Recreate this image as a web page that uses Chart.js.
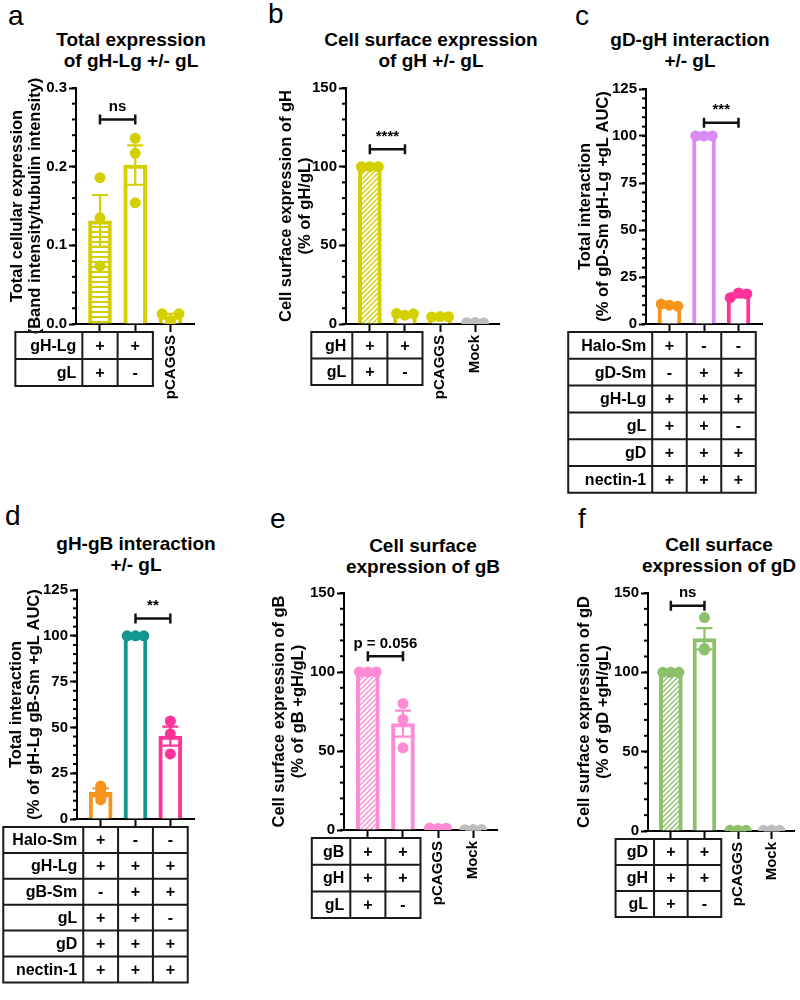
<!DOCTYPE html>
<html>
<head>
<meta charset="utf-8">
<script src="https://cdn.jsdelivr.net/npm/chart.js@4.4.1/dist/chart.umd.min.js"></script>
<style>
  body { margin: 0; background: #fff; }
  #page { position: relative; width: 800px; height: 1000px; overflow: hidden; font-family: "Liberation Sans", Arial, sans-serif; }
  .letter { position: absolute; font-size: 28px; line-height: 28px; }
  .title { position: absolute; width: 300px; text-align: center; font-weight: bold; font-size: 19px; line-height: 21px; }
  canvas { position: absolute; }
</style>
</head>
<body>
<div id="page"></div>
<script>
// ---- data ----
// a: total expression of gH-Lg +/- gL
const aLabels = ['', '', 'pCAGGS'];
const aMeans = [0.131, 0.202, 0.010];
const aSem = [0.033, 0.025, 0.003];
const aPoints = [[0.186, 0.135, 0.074], [0.236, 0.217, 0.154], [0.013, 0.004, 0.013]];
const aYTicks = [0, 0.1, 0.2, 0.3];
const aBrackets = [{ from: 0, to: 1, y: 0.26, text: 'ns' }];
const aTable = [['gH-Lg', '+', '+'], ['gL', '+', '-']];

// b: cell surface expression of gH +/- gL
const bLabels = ['', '', 'pCAGGS', 'Mock'];
const bMeans = [100, 6.2, 4.6, 0.8];
const bSem = [0, 0.4, 0.2, 0.1];
const bPoints = [[100, 100, 100], [6.6, 5.6, 6.5], [4.5, 4.7, 4.6], [0.8, 0.9, 0.7]];
const bYTicks = [0, 50, 100, 150];
const bBrackets = [{ from: 0, to: 1, y: 111, text: '****' }];
const bTable = [['gH', '+', '+'], ['gL', '+', '-']];

// c: gD-gH interaction +/- gL
const cLabels = ['', '', ''];
const cMeans = [10, 100, 15.5];
const cSem = [0.4, 0, 0.8];
const cPoints = [[10.6, 10.0, 9.5], [100, 100, 100], [14.0, 16.5, 16.0]];
const cYTicks = [0, 25, 50, 75, 100, 125];
const cBrackets = [{ from: 1, to: 2, y: 107, text: '***' }];
const cTable = [
  ['Halo-Sm', '+', '-', '-'],
  ['gD-Sm', '-', '+', '+'],
  ['gH-Lg', '+', '+', '+'],
  ['gL', '+', '+', '-'],
  ['gD', '+', '+', '+'],
  ['nectin-1', '+', '+', '+']
];

// d: gH-gB interaction +/- gL
const dLabels = ['', '', ''];
const dMeans = [14.5, 100, 45.2];
const dSem = [2.2, 0, 5.2];
const dPoints = [[18.0, 15.0, 10.5], [100, 100, 100], [53.5, 46.5, 35.5]];
const dYTicks = [0, 25, 50, 75, 100, 125];
const dBrackets = [{ from: 1, to: 2, y: 109.5, text: '**' }];
const dTable = [
  ['Halo-Sm', '+', '-', '-'],
  ['gH-Lg', '+', '+', '+'],
  ['gB-Sm', '-', '+', '+'],
  ['gL', '+', '+', '-'],
  ['gD', '+', '+', '+'],
  ['nectin-1', '+', '+', '+']
];

// e: cell surface expression of gB
const eLabels = ['', '', 'pCAGGS', 'Mock'];
const eMeans = [100, 67.3, 1.1, 0.3];
const eSem = [0, 8.2, 0.1, 0.1];
const ePoints = [[100, 100, 100], [80, 70, 52], [1.2, 1.0, 1.1], [0.2, 0.3, 0.3]];
const eYTicks = [0, 50, 100, 150];
const eBrackets = [{ from: 0, to: 1, y: 110, text: 'p = 0.056' }];
const eTable = [['gB', '+', '+'], ['gH', '+', '+'], ['gL', '+', '-']];

// f: cell surface expression of gD
const fLabels = ['', '', 'pCAGGS', 'Mock'];
const fMeans = [100, 121.2, 0.5, 0.5];
const fSem = [0, 6.7, 0.1, 0.1];
const fPoints = [[100, 100, 100], [134.5, 115, 114], [0.4, 0.5, 0.4], [0.5, 0.6, 0.4]];
const fYTicks = [0, 50, 100, 150];
const fBrackets = [{ from: 0, to: 1, y: 142, text: 'ns' }];
const fTable = [['gD', '+', '+'], ['gH', '+', '+'], ['gL', '+', '-']];

// ---- colours ----
const YEL = '#d3cf00', ORA = '#f7941d', VIO = '#da8cf5', PNK = '#ff3399',
      TEA = '#12968f', LPK = '#ff8ad6', GRN = '#8cc06a', GRY = '#bdbdbd';

const FONT = '"Liberation Sans", Arial, sans-serif';
Chart.defaults.font.family = FONT;
Chart.defaults.color = '#000';

function makeFill(kind, color) {
  if (kind === 'o') return '#ffffff';
  const c = document.createElement('canvas');
  if (kind === 'h') {
    c.width = 4; c.height = 5;
    const g = c.getContext('2d');
    g.fillStyle = '#fff'; g.fillRect(0, 0, 4, 5);
    g.fillStyle = color; g.fillRect(0, 0, 4, 2);
    return g.createPattern(c, 'repeat');
  }
  c.width = 5; c.height = 5;
  const g = c.getContext('2d');
  g.fillStyle = '#fff'; g.fillRect(0, 0, 5, 5);
  g.strokeStyle = color; g.lineWidth = 1.4;
  g.beginPath();
  g.moveTo(-1, 6); g.lineTo(6, -1);
  g.moveTo(-1, 1); g.lineTo(1, -1);
  g.moveTo(4, 6); g.lineTo(6, 4);
  g.stroke();
  return g.createPattern(c, 'repeat');
}

// error bars, minor ticks, significance brackets and the condition table
function extrasPlugin(p) {
  return {
    id: 'extras',
    afterDatasetsDraw(chart) {
      const { ctx } = chart;
      const x = chart.scales.x, y = chart.scales.y;
      ctx.save();
      ctx.lineCap = 'butt';

      // minor y ticks
      ctx.strokeStyle = '#000';
      ctx.lineWidth = 2;
      const nMinor = Math.round(p.yMax / p.minor);
      for (let k = 0; k <= nMinor; k++) {
        const py = y.getPixelForValue(k * p.minor);
        ctx.beginPath();
        ctx.moveTo(x.left - 4, py);
        ctx.lineTo(x.left, py);
        ctx.stroke();
      }

      // mean +/- SEM
      p.means.forEach((m, i) => {
        const s = p.sems[i];
        if (!s) return;
        const px = x.getPixelForValue(i);
        const t = y.getPixelForValue(m + s), b = y.getPixelForValue(Math.max(m - s, 0));
        ctx.strokeStyle = p.colors[i];
        ctx.lineWidth = 2.2;
        ctx.beginPath();
        ctx.moveTo(px, t); ctx.lineTo(px, b);
        ctx.moveTo(px - 8, t); ctx.lineTo(px + 8, t);
        ctx.moveTo(px - 8, b); ctx.lineTo(px + 8, b);
        ctx.stroke();
      });

      // brackets
      p.brackets.forEach(br => {
        const x1 = x.getPixelForValue(br.from), x2 = x.getPixelForValue(br.to);
        const py = y.getPixelForValue(br.y);
        ctx.strokeStyle = '#111';
        ctx.lineWidth = 2.5;
        ctx.beginPath();
        ctx.moveTo(x1, py); ctx.lineTo(x2, py);
        ctx.moveTo(x1, py - 5); ctx.lineTo(x1, py + 5);
        ctx.moveTo(x2, py - 5); ctx.lineTo(x2, py + 5);
        ctx.stroke();
        ctx.fillStyle = '#000';
        ctx.font = 'bold 15px ' + FONT;
        ctx.textAlign = 'center';
        ctx.textBaseline = 'bottom';
        ctx.fillText(br.text, (x1 + x2) / 2, py - 5);
      });

      // condition table under the axis
      if (p.table) {
        const step = x.getPixelForValue(1) - x.getPixelForValue(0);
        const cols = p.table[0].length - 1;
        const edges = [x.getPixelForValue(0) - step / 2 - p.labelW];
        for (let i = 0; i <= cols; i++) edges.push(x.getPixelForValue(i) - step / 2);
        const top = y.bottom + 8;
        const rows = p.table.length;
        const bottom = top + rows * p.rowH;
        ctx.strokeStyle = '#1a1a1a';
        ctx.lineWidth = 2;
        ctx.beginPath();
        for (let r = 0; r <= rows; r++) {
          const ry = top + r * p.rowH;
          ctx.moveTo(edges[0] - 1, ry); ctx.lineTo(edges[edges.length - 1] + 1, ry);
        }
        edges.forEach(ex => { ctx.moveTo(ex, top); ctx.lineTo(ex, bottom); });
        ctx.stroke();
        ctx.fillStyle = '#000';
        ctx.font = 'bold 16px ' + FONT;
        ctx.textBaseline = 'middle';
        p.table.forEach((row, r) => {
          const cy = top + (r + 0.5) * p.rowH + 1;
          ctx.textAlign = 'right';
          ctx.fillText(row[0], edges[1] - 6, cy);
          ctx.textAlign = 'center';
          for (let i = 1; i < row.length; i++) {
            ctx.fillText(row[i], x.getPixelForValue(i - 1), cy);
          }
        });
      }
      ctx.restore();
    }
  };
}

function drawPanel(p) {
  const page = document.getElementById('page');

  const L = document.createElement('div');
  L.className = 'letter';
  L.textContent = p.letter[0];
  L.style.left = p.letter[1] + 'px';
  L.style.top = p.letter[2] + 'px';
  page.appendChild(L);

  const T = document.createElement('div');
  T.className = 'title';
  T.innerHTML = p.title.join('<br>');
  T.style.left = (p.titleCx - 150) + 'px';
  T.style.top = p.titleTop + 'px';
  page.appendChild(T);

  const [cl, ct, cw, ch] = p.box;
  const cv = document.createElement('canvas');
  cv.width = cw; cv.height = ch;
  cv.style.left = cl + 'px'; cv.style.top = ct + 'px';
  cv.style.width = cw + 'px'; cv.style.height = ch + 'px';
  page.appendChild(cv);

  const n = p.labels.length;
  const bars = p.means.map((m, i) => ({ x: i, y: m }));
  const fills = p.fills.map((f, i) => makeFill(f, p.colors[i]));

  const pts = [], ptCol = [];
  p.points.forEach((vals, i) => {
    const spread = (Math.max(...vals) - Math.min(...vals)) < p.yMax * 0.04;
    vals.forEach((v, k) => {
      pts.push({ x: i + (spread ? (k - 1) * 0.24 : 0), y: v });
      ptCol.push(p.colors[i]);
    });
  });

  new Chart(cv, {
    type: 'bar',
    data: {
      datasets: [
        {
          type: 'bar',
          data: bars,
          backgroundColor: fills,
          borderColor: p.colors,
          borderWidth: 4,
          barThickness: 23,
          order: 2
        },
        {
          type: 'scatter',
          data: pts,
          pointRadius: 5.5,
          pointBackgroundColor: ptCol,
          pointBorderWidth: 0,
          order: 1
        }
      ]
    },
    options: {
      responsive: false,
      animation: false,
      layout: {
        padding: {
          left: p.titleLeft - cl,
          top: p.axis.top - ct,
          right: cl + cw - p.axis.right,
          bottom: 0
        }
      },
      plugins: { legend: { display: false }, tooltip: { enabled: false } },
      scales: {
        x: {
          type: 'linear',
          offset: false,
          min: -0.68,
          max: n - 1 + 0.68,
          afterBuildTicks: s => { s.ticks = p.labels.map((_, i) => ({ value: i })); },
          afterFit: s => {
            s.height = ct + ch - p.axis.bottom;
            s.paddingLeft = 0;
            s.paddingRight = 0;
          },
          ticks: {
            callback: v => p.labels[v],
            minRotation: 90, maxRotation: 90, autoSkip: false,
            padding: 3,
            font: { size: 15, weight: 'bold' }
          },
          grid: { offset: false, drawOnChartArea: false, tickLength: 8, tickWidth: 2, tickColor: '#000' },
          border: { color: '#000', width: 2 }
        },
        y: {
          min: 0,
          max: p.yMax,
          afterBuildTicks: s => { s.ticks = p.yTicks.map(v => ({ value: v })); },
          afterFit: s => { s.width = p.axis.left - p.titleLeft; },
          ticks: {
            callback: v => p.fmt(v),
            padding: 2,
            font: { size: 15, weight: 'bold' }
          },
          grid: { drawOnChartArea: false, tickLength: 7, tickWidth: 2, tickColor: '#000' },
          border: { color: '#000', width: 2 },
          title: {
            display: true,
            text: p.yTitle,
            padding: 0,
            font: { size: 16.5, weight: 'bold', lineHeight: 1.12 }
          }
        }
      }
    },
    plugins: [extrasPlugin(p)]
  });
}

const intFmt = v => String(v);

drawPanel({
  letter: ['a', 8, 2], title: ['Total expression', 'of gH-Lg +/- gL'], titleCx: 131, titleTop: 29,
  box: [0, 76, 200, 329], axis: { left: 76, right: 195, top: 88, bottom: 324 }, titleLeft: 8,
  labels: aLabels, means: aMeans, sems: aSem, points: aPoints, yTicks: aYTicks, yMax: 0.3, minor: 0.02,
  fmt: v => v.toFixed(1), yTitle: ['Total cellular expression', '(Band intensity/tubulin intensity)'],
  colors: [YEL, YEL, YEL], fills: ['h', 'o', 'o'], brackets: aBrackets,
  table: aTable, labelW: 67, rowH: 27
});

drawPanel({
  letter: ['b', 268, 0], title: ['Cell surface expression', 'of gH +/- gL'], titleCx: 431, titleTop: 29,
  box: [270, 76, 235, 329], axis: { left: 346, right: 499, top: 88, bottom: 324 }, titleLeft: 277.5,
  labels: bLabels, means: bMeans, sems: bSem, points: bPoints, yTicks: bYTicks, yMax: 150, minor: 10,
  fmt: intFmt, yTitle: ['Cell surface expression of gH', '(% of gH/gL)'],
  colors: [YEL, YEL, YEL, GRY], fills: ['d', 'o', 'o', 'o'], brackets: bBrackets,
  table: bTable, labelW: 41, rowH: 26.5
});

drawPanel({
  letter: ['c', 575, 2], title: ['gD-gH interaction', '+/- gL'], titleCx: 690, titleTop: 29,
  box: [560, 77, 210, 423], axis: { left: 646, right: 762, top: 89, bottom: 324 }, titleLeft: 576,
  labels: cLabels, means: cMeans, sems: cSem, points: cPoints, yTicks: cYTicks, yMax: 125, minor: 5,
  fmt: intFmt, yTitle: ['Total interaction', '(% of gD-Sm gH-Lg +gL AUC)'],
  colors: [ORA, VIO, PNK], fills: ['o', 'o', 'o'], brackets: cBrackets,
  table: cTable, labelW: 84, rowH: 26.8
});

drawPanel({
  letter: ['d', 5, 502], title: ['gH-gB interaction', '+/- gL'], titleCx: 136, titleTop: 533,
  box: [0, 578, 200, 412], axis: { left: 77, right: 194, top: 590, bottom: 819 }, titleLeft: 7,
  labels: dLabels, means: dMeans, sems: dSem, points: dPoints, yTicks: dYTicks, yMax: 125, minor: 5,
  fmt: intFmt, yTitle: ['Total interaction', '(% of gH-Lg gB-Sm +gL AUC)'],
  colors: [ORA, TEA, PNK], fills: ['o', 'o', 'o'], brackets: dBrackets,
  table: dTable, labelW: 80, rowH: 25.9
});

drawPanel({
  letter: ['e', 270, 505], title: ['Cell surface', 'expression of gB'], titleCx: 423, titleTop: 535,
  box: [265, 580, 240, 345], axis: { left: 344, right: 497, top: 593, bottom: 830 }, titleLeft: 270.5,
  labels: eLabels, means: eMeans, sems: eSem, points: ePoints, yTicks: eYTicks, yMax: 150, minor: 10,
  fmt: intFmt, yTitle: ['Cell surface expression of gB', '(% of gB +gH/gL)'],
  colors: [LPK, LPK, LPK, GRY], fills: ['d', 'o', 'o', 'o'], brackets: eBrackets,
  table: eTable, labelW: 38.5, rowH: 26.7
});

drawPanel({
  letter: ['f', 578, 505], title: ['Cell surface', 'expression of gD'], titleCx: 719, titleTop: 534,
  box: [570, 580, 230, 345], axis: { left: 648, right: 799, top: 593, bottom: 831 }, titleLeft: 575.5,
  labels: fLabels, means: fMeans, sems: fSem, points: fPoints, yTicks: fYTicks, yMax: 150, minor: 10,
  fmt: intFmt, yTitle: ['Cell surface expression of gD', '(% of gD +gH/gL)'],
  colors: [GRN, GRN, GRN, GRY], fills: ['d', 'o', 'o', 'o'], brackets: fBrackets,
  table: fTable, labelW: 38.5, rowH: 26
});
</script>
</body>
</html>
